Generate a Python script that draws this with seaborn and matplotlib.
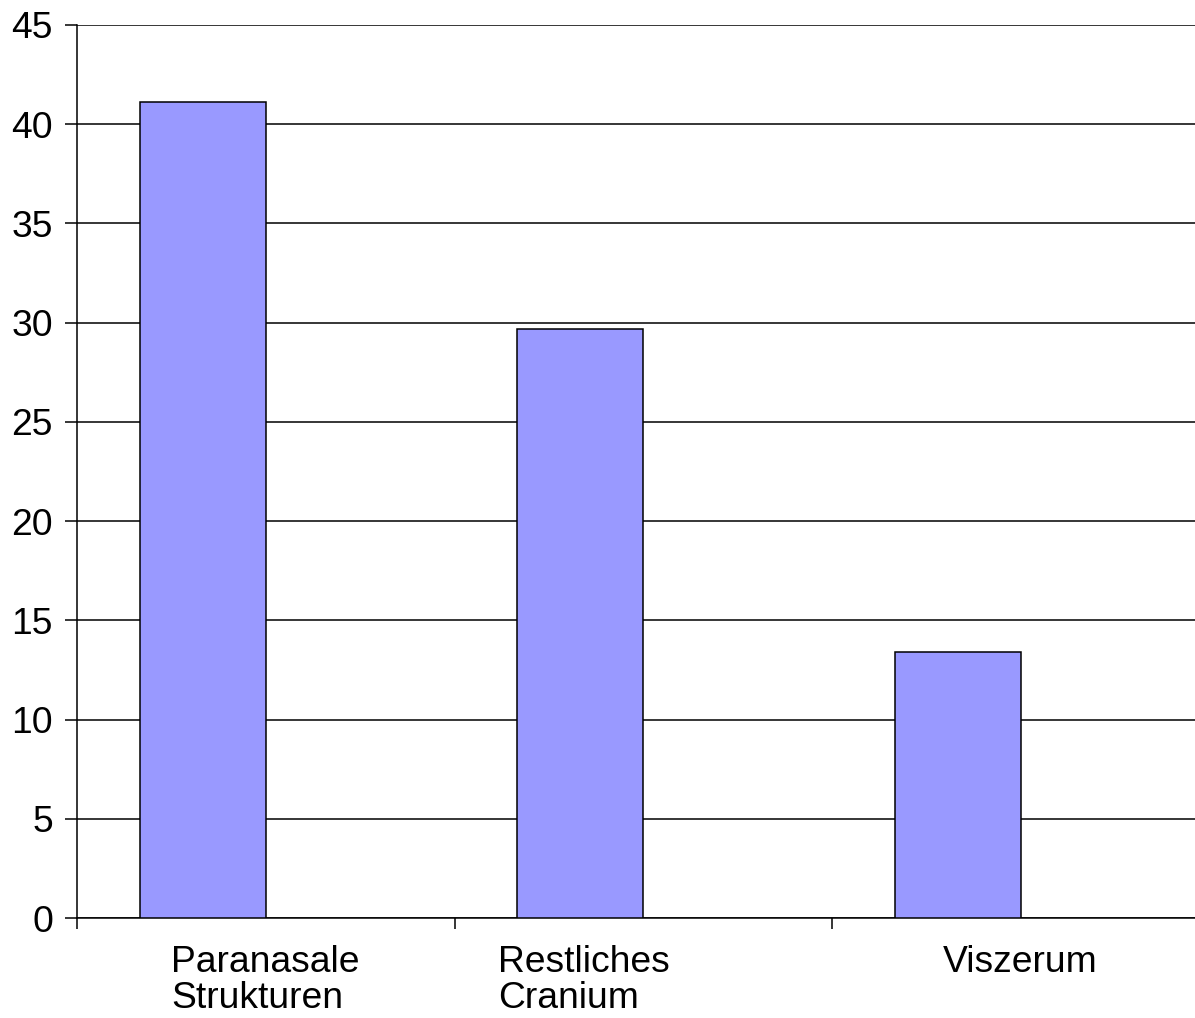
import matplotlib
matplotlib.use("Agg")
import matplotlib.pyplot as plt
import seaborn as sns
import pandas as pd

categories = ["Paranasale\nStrukturen", "Restliches\nCranium", "Viszerum"]
values = [41.1, 29.7, 13.4]
series = ["Anteil", "leer"]
y_ticks = [0, 5, 10, 15, 20, 25, 30, 35, 40, 45]
label_left = [-0.251, 0.615, 1.794]  # left edge of each category caption (data units)

sns.set_theme(style="white")
plt.rcParams["font.family"] = ["Liberation Sans", "DejaVu Sans"]

df = pd.DataFrame({"kategorie": categories, "wert": values, "serie": series[0]})

fig = plt.figure(figsize=(11.95, 10.18), dpi=100)
ax = fig.add_axes([77 / 1195, 100 / 1018, 1132.5 / 1195, 893 / 1018])

sns.barplot(data=df, x="kategorie", y="wert", hue="serie", hue_order=series,
            order=categories, palette={series[0]: "#9999FF", series[1]: "#993366"},
            saturation=1, width=2 / 3, dodge=True, edgecolor="black", linewidth=1.1,
            legend=False, ax=ax, zorder=3)

ax.set_xlim(-0.5, 2.5)
ax.set_ylim(0, 45)
ax.set_yticks(y_ticks)
ax.set_yticklabels([str(t) for t in y_ticks], fontsize=26.8)
ax.yaxis.grid(True, color="black", linewidth=1.1, zorder=0)
ax.set_axisbelow(True)

ax.set_xticks([-0.5, 0.5, 1.5, 2.5])
ax.set_xticklabels([])
ax.tick_params(axis="x", direction="out", length=8, width=1.1, color="black", bottom=True)
ax.tick_params(axis="y", direction="out", length=8.6, width=1.1, color="black",
               pad=8.6, left=True, labelcolor="black")
ax.set_xlabel("")
ax.set_ylabel("")

for s in ["top", "right"]:
    ax.spines[s].set_visible(False)
for s in ["left", "bottom"]:
    ax.spines[s].set_color("black")
    ax.spines[s].set_linewidth(1.1)

trans = ax.get_xaxis_transform()
for x, lab in zip(label_left, categories):
    ax.text(x, -0.03, lab, transform=trans, ha="left", va="top", fontsize=26.8,
            linespacing=1.05, color="black", clip_on=False)

fig.savefig("out.png", dpi=100)
